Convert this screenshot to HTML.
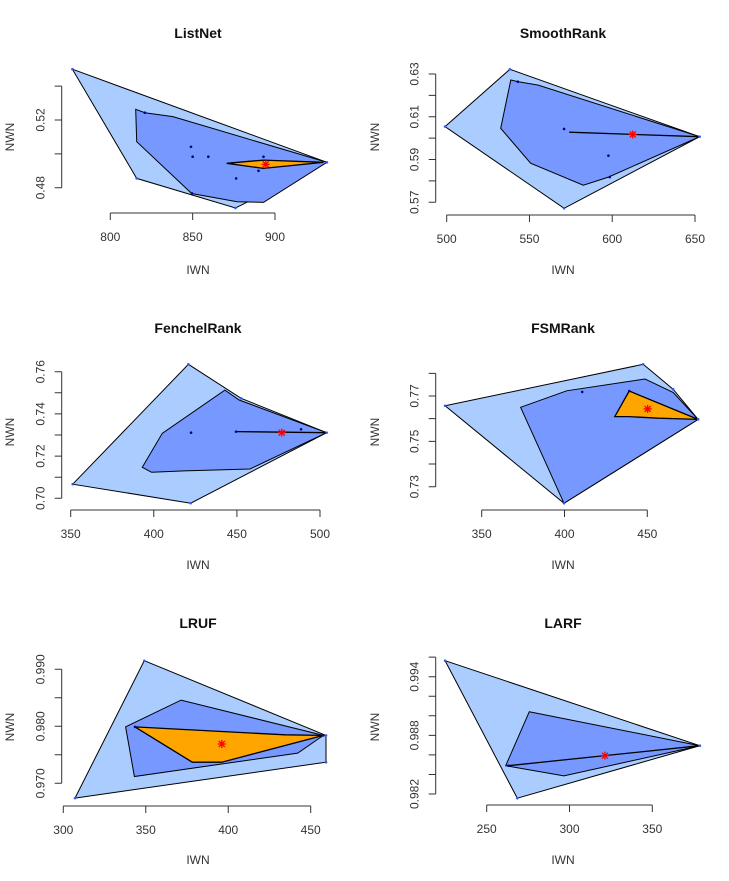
<!DOCTYPE html>
<html><head><meta charset="utf-8"><style>
body{margin:0;background:#fff;}
svg{display:block;font-family:"Liberation Sans",sans-serif;}
</style></head><body>
<svg id="c" width="729" height="881" viewBox="0 0 729 881"></svg>
<script>
// ---- data (IWN, NWN) ----
const titles=["ListNet","SmoothRank","FenchelRank","FSMRank","LRUF","LARF"];
const listnetOuter=[[777,0.550],[931.5,0.495],[876,0.468],[816,0.4855]];
const listnetBag=[[815.4,0.5263],[821,0.5243],[838,0.522],[931.5,0.495],[893,0.4713],[877,0.4717],[849.4,0.4766],[816,0.5072]];
const listnetLoop=[[870.7,0.4944],[893,0.4963],[929.3,0.495],[893,0.4914]];
const listnetPoints=[[849,0.5042],[850,0.4983],[859.5,0.4983],[893,0.4983],[890,0.490],[876.4,0.4855],[849.6,0.4766],[821,0.5243]];
const listnetMedian=[894.4,0.4938];
const smoothOuter=[[499,0.6054],[538.2,0.6322],[652.8,0.6007],[570.9,0.5672]];
const smoothBag=[[538.7,0.6272],[543.3,0.6264],[555.3,0.6248],[652.8,0.6007],[597.7,0.5818],[582.5,0.578],[550.7,0.5883],[532.6,0.6046]];
const smoothLoop=[[574,0.6028],[652.8,0.6007]];
const smoothPoints=[[570.9,0.6043],[597.7,0.5918],[598.5,0.5818],[543,0.6264]];
const smoothMedian=[612.4,0.6017];
const fenchelOuter=[[351.2,0.7067],[420.8,0.7635],[452.5,0.7474],[504,0.7311],[422.2,0.6977]];
const fenchelBag=[[393.1,0.7147],[405.1,0.7308],[442.8,0.7513],[451.3,0.7466],[504,0.7311],[457.9,0.7139],[418.3,0.7130],[398.7,0.7123]];
const fenchelLoop=[[449.5,0.7316],[504,0.7311]];
const fenchelPoints=[[422.4,0.7311],[449.5,0.7316],[488.6,0.7327]];
const fenchelMedian=[477,0.7311];
const fsmOuter=[[327.9,0.7657],[447.5,0.7840],[465.6,0.7730],[480.7,0.7597],[399.7,0.7227]];
const fsmBag=[[373.5,0.7650],[401.3,0.7723],[448.6,0.7775],[465.6,0.7716],[480.7,0.7597],[399.7,0.7227]];
const fsmLoop=[[439.1,0.7722],[480.7,0.7597],[456.6,0.7602],[439.1,0.7609],[430.4,0.7609]];
const fsmPoints=[[410.7,0.7718],[439.1,0.7722]];
const fsmMedian=[450.2,0.7643];
const lrufOuter=[[349.1,0.9915],[459.3,0.9784],[459.3,0.9737],[307.1,0.9674]];
const lrufBag=[[337.8,0.9799],[371.4,0.9846],[457.7,0.9784],[442.1,0.9753],[343.1,0.9712]];
const lrufLoop=[[343.5,0.9799],[368.8,0.9795],[434.4,0.9785],[457.7,0.9784],[396.1,0.9737],[378.2,0.9737]];
const lrufPoints=[[343.5,0.9799],[457.7,0.9784]];
const lrufMedian=[396.1,0.9769];
const larfOuter=[[224.9,0.99564],[378.7,0.98694],[268.5,0.98157]];
const larfBag=[[275.7,0.99042],[378.7,0.98694],[296.6,0.98385],[261.5,0.9849]];
const larfLoop=[[263.1,0.9849],[378.7,0.98694]];
const larfPoints=[[263.1,0.9849]];
const larfMedian=[321.4,0.98592];
// tick values
const xTicks=[[800,850,900],[500,550,600,650],[350,400,450,500],[350,400,450],[300,350,400,450],[250,300,350]];
const yTicks=[[0.48,0.50,0.52,0.54],[0.57,0.58,0.59,0.60,0.61,0.62,0.63],[0.70,0.71,0.72,0.73,0.74,0.75,0.76],[0.73,0.74,0.75,0.76,0.77,0.78],[0.970,0.975,0.980,0.985,0.990],[0.982,0.984,0.986,0.988,0.990,0.992,0.994,0.996]];
const yLabels=[["0.48","","0.52",""],["0.57","","0.59","","0.61","","0.63"],["0.70","","0.72","","0.74","","0.76"],["0.73","","0.75","","0.77",""],["0.970","","0.980","","0.990"],["0.982","","","0.988","","","0.994",""]];

// ---- layout (calibration) ----
const cal=[
 {x0:800,px0:110.3,x1:900,px1:275,y0:0.48,py0:187.7,y1:0.52,py1:120,ax:61.7,ay:213,ox:0,oy:0},
 {x0:500,px0:446.7,x1:650,px1:695,y0:0.57,py0:202.3,y1:0.63,py1:74,ax:435.7,ay:215,ox:365,oy:0},
 {x0:350,px0:70.7,x1:500,px1:320,y0:0.70,py0:498.3,y1:0.76,py1:371.7,ax:61.7,ay:510,ox:0,oy:295},
 {x0:350,px0:481.7,x1:450,px1:647.3,y0:0.73,py0:486.7,y1:0.77,py1:396,ax:435.7,ay:510,ox:365,oy:295},
 {x0:300,px0:63.3,x1:450,px1:310.7,y0:0.970,py0:783.3,y1:0.990,py1:669.3,ax:61.7,ay:806,ox:0,oy:590},
 {x0:250,px0:486.7,x1:350,px1:652.3,y0:0.982,py0:794,y1:0.994,py1:676.7,ax:435.7,ay:805,ox:365,oy:590}
];
const panels=[
 [listnetOuter,listnetBag,listnetLoop,listnetPoints,listnetMedian],
 [smoothOuter,smoothBag,smoothLoop,smoothPoints,smoothMedian],
 [fenchelOuter,fenchelBag,fenchelLoop,fenchelPoints,fenchelMedian],
 [fsmOuter,fsmBag,fsmLoop,fsmPoints,fsmMedian],
 [lrufOuter,lrufBag,lrufLoop,lrufPoints,lrufMedian],
 [larfOuter,larfBag,larfLoop,larfPoints,larfMedian]
];
const NS="http://www.w3.org/2000/svg";
const svg=document.getElementById('c');
function mk(tag,attrs,parent){const e=document.createElementNS(NS,tag);for(const k in attrs)e.setAttribute(k,attrs[k]);parent.appendChild(e);return e;}
panels.forEach((p,i)=>{
 const c=cal[i];
 const sx=v=>c.px0+(v-c.x0)*(c.px1-c.px0)/(c.x1-c.x0);
 const sy=v=>c.py0+(v-c.y0)*(c.py1-c.py0)/(c.y1-c.y0);
 const g=mk('g',{},svg);
 
 
 const pts=a=>a.map(d=>sx(d[0]).toFixed(1)+','+sy(d[1]).toFixed(1)).join(' ');
 const o=mk('polygon',{points:pts(p[0]),fill:'#aaccff',stroke:'#000','stroke-width':1},g);
 
 
 const b=mk('polygon',{points:pts(p[1]),fill:'#7799ff',stroke:'#000','stroke-width':1},g);
 
 
 const l=mk(p[2].length>2?'polygon':'polyline',{points:pts(p[2]),fill:p[2].length>2?'#ffa500':'none',stroke:'#000','stroke-width':1.3},g);
 
 
 p[0].forEach(d=>{const e=mk('circle',{cx:sx(d[0]),cy:sy(d[1]),r:1.3,fill:'#3355ff'},g);
  
  });
 p[3].forEach(d=>{const e=mk('circle',{cx:sx(d[0]),cy:sy(d[1]),r:1.3,fill:'#000088'},g);
  
  });
 const mx=sx(p[4][0]),my=sy(p[4][1]);
 const st=mk('path',{d:`M${mx-4},${my}H${mx+4}M${mx},${my-4}V${my+4}M${mx-3},${my-3}L${mx+3},${my+3}M${mx-3},${my+3}L${mx+3},${my-3}`,stroke:'#ff0000','stroke-width':1.3},g);
 
 
 const xt=xTicks[i];
 const xa=mk('path',{d:`M${sx(xt[0])},${c.ay}H${sx(xt[xt.length-1])}`+xt.map(v=>`M${sx(v)},${c.ay}v7`).join(''),stroke:'#333',fill:'none','stroke-width':1},g);
 
 
 xt.forEach(v=>{const t=mk('text',{x:sx(v),y:c.ay+28,'text-anchor':'middle','font-size':12,fill:'#333'},g);t.textContent=v;
  
  });
 const yt=yTicks[i];
 const ya=mk('path',{d:`M${c.ax},${sy(yt[0])}V${sy(yt[yt.length-1])}`+yt.map(v=>`M${c.ax},${sy(v)}h-7`).join(''),stroke:'#333',fill:'none','stroke-width':1},g);
 
 
 yt.forEach((v,j)=>{if(!yLabels[i][j])return;const x=c.ax-17,y=sy(v);
  const t=mk('text',{x:x,y:y,'text-anchor':'middle','font-size':12,fill:'#333',transform:`rotate(-90 ${x} ${y})`},g);t.textContent=yLabels[i][j];
  
  });
 const cx=c.ox+198;
 const ti=mk('text',{x:cx,y:c.oy+38,'text-anchor':'middle','font-size':14,'font-weight':'bold',fill:'#111'},g);ti.textContent=titles[i];
 
 
 const xl=mk('text',{x:cx,y:c.oy+274,'text-anchor':'middle','font-size':12,fill:'#333'},g);xl.textContent='IWN';
 
 
 const lx=c.ox+14,ly=c.oy+137;
 const yl=mk('text',{x:lx,y:ly,'text-anchor':'middle','font-size':12,fill:'#333',transform:`rotate(-90 ${lx} ${ly})`},g);yl.textContent='NWN';
 
 
});
</script>
</body></html>
